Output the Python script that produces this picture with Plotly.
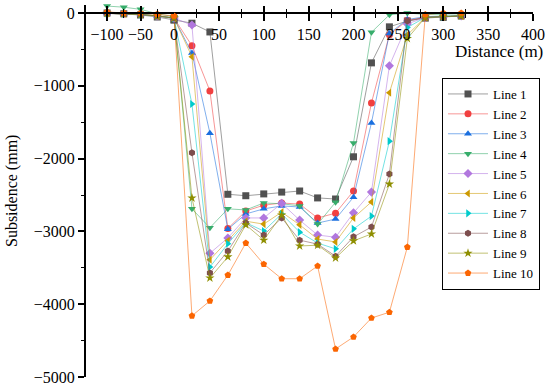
import plotly.graph_objects as go

# Distance along profile (m)
distance = [-100, -75, -50, -25, 0, 20, 40, 60, 80, 100, 120, 140, 160, 180,
            200, 220, 240, 260, 280, 300, 320]

# Subsidence values (mm) for each survey line
line1 = [0, -10, -27, -55, -95, -140, -260, -2490, -2510, -2485, -2460, -2445,
         -2540, -2555, -1975, -685, -190, -110, -70, -60, -40]
line2 = [-5, -10, -20, -40, -70, -450, -1070, -2960, -2720, -2640, -2610, -2625,
         -2815, -2750, -2445, -1235, -300, -100, -60, -50, -40]
line3 = [-5, -10, -20, -40, -70, -550, -1650, -2970, -2760, -2690, -2650, -2665,
         -2885, -2830, -2530, -1510, -280, -90, -50, -45, -40]
line4 = [95, 80, 50, -10, -50, -2690, -2950, -2690, -2705, -2610, -2620, -2650,
         -2900, -2600, -1785, -265, -25, 0, -20, -30, -30]
line5 = [-5, -10, -20, -40, -70, -165, -3300, -3090, -2815, -2815, -2615, -2845,
         -3050, -3080, -2745, -2460, -725, -150, -60, -50, -40]
line6 = [-5, -10, -20, -40, -70, -600, -3390, -3130, -2860, -2900, -2735, -2910,
         -3105, -3145, -2815, -2595, -1095, -300, -60, -50, -40]
line7 = [-5, -10, -20, -40, -70, -1250, -3490, -3170, -2880, -2995, -2760, -3010,
         -3160, -3240, -2965, -2790, -1760, -200, -60, -50, -40]
line8 = [-5, -10, -20, -40, -70, -1920, -3570, -3270, -2885, -3050, -2815, -3120,
         -3175, -3340, -3075, -2940, -2210, -110, -60, -50, -40]
line9 = [-5, -10, -20, -40, -70, -2540, -3640, -3350, -2910, -3120, -2775, -3200,
         -3190, -3365, -3130, -3035, -2350, -350, -60, -50, -40]
line10 = [15, 0, 0, -15, -40, -4160, -3955, -3600, -3160, -3450, -3650, -3650,
          -3475, -4615, -4450, -4190, -4110, -3215, -20, 0, 0]

series = [line1, line2, line3, line4, line5, line6, line7, line8, line9, line10]
names = ["Line 1", "Line 2", "Line 3", "Line 4", "Line 5",
         "Line 6", "Line 7", "Line 8", "Line 9", "Line 10"]

colors = ["#515151", "#F14040", "#1A6FDF", "#37AD6B", "#B177DE",
          "#CC9900", "#00CBCC", "#7D4E4E", "#8E8E00", "#FB6501"]
symbols = ["square", "circle", "triangle-up", "triangle-down", "diamond",
           "triangle-left", "triangle-right", "hexagon", "star", "pentagon"]


def rgba(hexc, a):
    h = hexc.lstrip("#")
    return "rgba(%d,%d,%d,%.2f)" % (int(h[0:2], 16), int(h[2:4], 16), int(h[4:6], 16), a)


FONT = "Liberation Serif, Times New Roman, serif"
fig = go.Figure()

neg_idx = [i for i, d in enumerate(distance) if d <= 0]
pos_idx = [i for i, d in enumerate(distance) if d >= 0]

for k, (vals, name) in enumerate(zip(series, names)):
    line_style = dict(color=rgba(colors[k], 0.55), width=1)
    marker_style = dict(color=colors[k], symbol=symbols[k], size=7,
                        line=dict(width=0))
    # negative-distance part (compressed axis segment)
    fig.add_trace(go.Scatter(
        x=[distance[i] for i in neg_idx], y=[vals[i] for i in neg_idx],
        xaxis="x3", yaxis="y", mode="lines+markers", name=name,
        legendgroup=name, showlegend=False, line=line_style,
        marker=marker_style, cliponaxis=False))
    # positive-distance part
    fig.add_trace(go.Scatter(
        x=[distance[i] for i in pos_idx], y=[vals[i] for i in pos_idx],
        xaxis="x", yaxis="y", mode="lines+markers", name=name,
        legendgroup=name, showlegend=True, line=line_style,
        marker=marker_style, cliponaxis=False))

# empty traces to activate the overlay tick axes (crossing tick marks)
fig.add_trace(go.Scatter(x=[], y=[], xaxis="x2", yaxis="y", showlegend=False))
fig.add_trace(go.Scatter(x=[], y=[], xaxis="x4", yaxis="y", showlegend=False))

YMIN, YMAX = -5000, 110
xpos = 1 - (YMAX - 0) / (YMAX - YMIN)  # paper fraction where y = 0
split = (174 - 85) / 448.0

tickfont = dict(family=FONT, size=16, color="black")

common_x = dict(anchor="free", position=xpos, side="bottom", showgrid=False,
                zeroline=False, tickfont=tickfont, tickcolor="black")

fig.update_layout(
    width=550, height=392,
    margin=dict(l=85, r=17, t=5, b=15),
    paper_bgcolor="white", plot_bgcolor="white",
    font=dict(family=FONT, color="black"),
    xaxis=dict(domain=[split, 1], range=[0, 400], dtick=50, tick0=0,
               ticks="outside", ticklen=7, tickwidth=1.5,
               showline=True, linecolor="black", linewidth=2,
               minor=dict(dtick=25, ticks="outside", ticklen=4, tickwidth=1,
                          tickcolor="black"),
               **common_x),
    xaxis2=dict(overlaying="x", domain=[split, 1], range=[0, 400], dtick=50,
                tick0=0, ticks="inside", ticklen=7, tickwidth=1.5,
                showticklabels=False, showline=False,
                minor=dict(dtick=25, ticks="inside", ticklen=4, tickwidth=1,
                           tickcolor="black"),
                **common_x),
    xaxis3=dict(domain=[0, split], range=[-133, 0], tickmode="array",
                tickvals=[-100, -50], ticks="outside", ticklen=7,
                tickwidth=1.5, showline=True, linecolor="black", linewidth=2,
                minor=dict(tickmode="array", tickvals=[-75, -25],
                           ticks="outside", ticklen=4, tickwidth=1,
                           tickcolor="black"),
                **common_x),
    xaxis4=dict(overlaying="x3", domain=[0, split], range=[-133, 0],
                tickmode="array", tickvals=[-100, -50], ticks="inside",
                ticklen=7, tickwidth=1.5, showticklabels=False,
                showline=False,
                minor=dict(tickmode="array", tickvals=[-75, -25],
                           ticks="inside", ticklen=4, tickwidth=1,
                           tickcolor="black"),
                **common_x),
    yaxis=dict(domain=[0, 1], range=[YMIN, YMAX], anchor="free", position=0,
               tickmode="array", tickvals=[0, -1000, -2000, -3000, -4000, -5000],
               ticks="outside", ticklen=6, tickwidth=1.5, tickcolor="black",
               showline=True, linecolor="black", linewidth=2,
               showgrid=False, zeroline=False, tickfont=tickfont,
               minor=dict(tickmode="array",
                          tickvals=[-500, -1500, -2500, -3500, -4500],
                          ticks="outside", ticklen=3, tickwidth=1,
                          tickcolor="black")),
    legend=dict(x=(442 - 85) / 448.0, y=(377 - 78) / 372.0,
                xanchor="left", yanchor="top",
                bgcolor="white", bordercolor="black", borderwidth=1,
                font=dict(family=FONT, size=13, color="black"),
                tracegroupgap=0, itemwidth=40),
    showlegend=True,
    annotations=[
        dict(text="Distance (m)", xref="paper", yref="paper",
             x=(545 - 85) / 448.0, y=(377 - 51) / 372.0,
             xanchor="right", yanchor="middle", showarrow=False,
             font=dict(family=FONT, size=17, color="black")),
        dict(text="Subsidence (mm)", xref="paper", yref="paper",
             x=(12 - 85) / 448.0, y=0.5, textangle=-90,
             xanchor="center", yanchor="middle", showarrow=False,
             font=dict(family=FONT, size=16, color="black")),
    ],
)

# remove the browser's default 8px page margin so the figure sits at (0, 0)
fig.write_html("out.html",
               config={"displayModeBar": False},
               post_script="document.body.style.margin='0';")
